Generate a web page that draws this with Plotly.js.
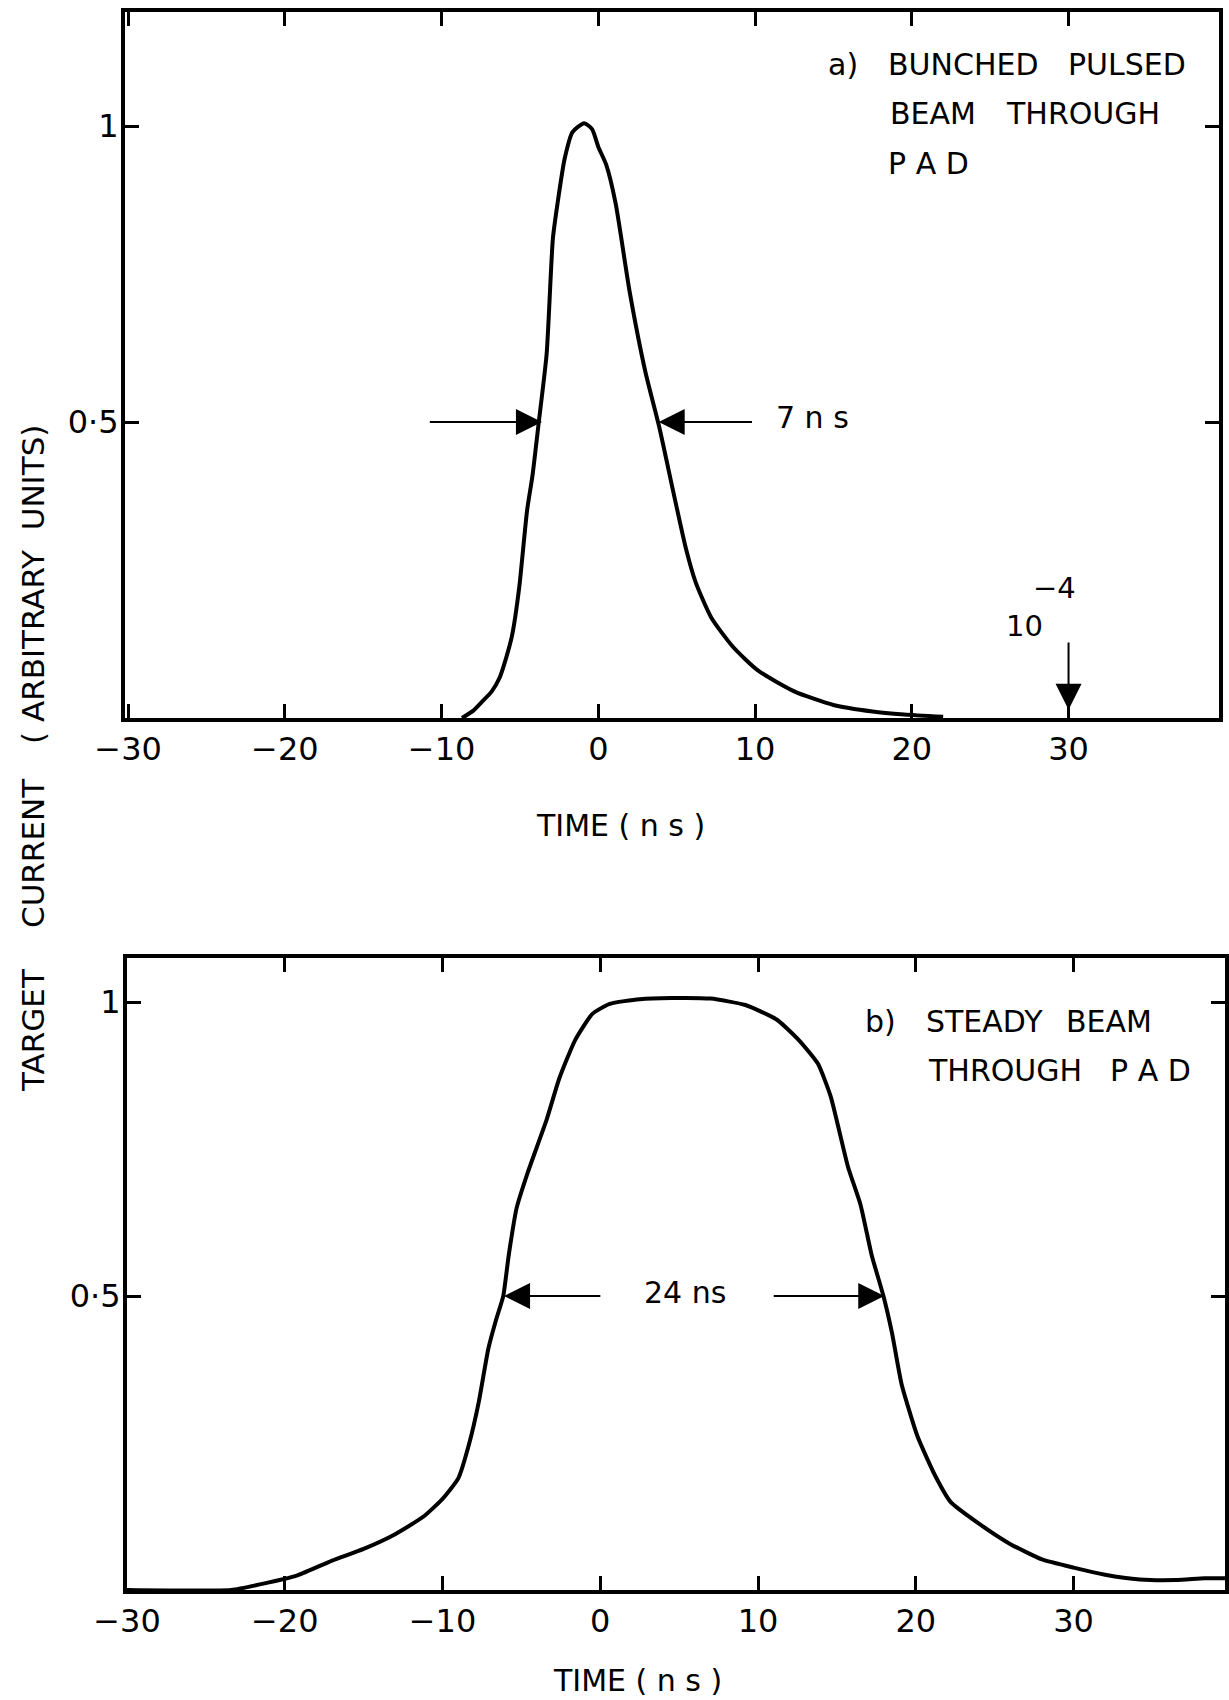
<!DOCTYPE html>
<html><head><meta charset="utf-8">
<script src="https://cdn.plot.ly/plotly-3.0.1.min.js"></script>
<style>html,body{margin:0;padding:0;background:#fff}</style>
</head><body><div id="chart" style="width:1229px;height:1700px"></div>
<script>
// ---- data: (a) bunched pulsed beam ----
const timeA = [-8.7, -8.0, -7.4, -6.8, -6.3, -5.9, -5.5, -5.05, -4.55, -4.2, -3.8, -3.3, -2.9, -2.6, -2.15, -1.65, -0.9, -0.4, 0.0, 0.5, 1.1, 2.0, 3.0, 3.9, 4.8, 5.6, 6.2, 7.2, 8.6, 10.2, 12.5, 15.0, 17.5, 19.5, 22.0];
const currentA = [0.0, 0.012, 0.028, 0.045, 0.068, 0.1, 0.14, 0.22, 0.35, 0.41, 0.5, 0.615, 0.81, 0.87, 0.945, 0.99, 1.005, 0.995, 0.965, 0.935, 0.87, 0.72, 0.585, 0.49, 0.38, 0.285, 0.23, 0.17, 0.12, 0.08, 0.045, 0.022, 0.011, 0.006, 0.002];
// ---- data: (b) steady beam ----
const timeB = [-30, -23.4, -21.5, -19.2, -17.0, -15.0, -13.0, -11.2, -10.0, -9.0, -8.3, -7.7, -7.1, -6.6, -6.15, -5.8, -5.3, -4.6, -3.4, -2.6, -1.6, -0.5, 0.6, 2.5, 4.5, 7.0, 9.2, 11.2, 12.6, 13.8, 14.6, 15.7, 16.5, 17.2, 17.95, 18.5, 19.1, 20.1, 21.2, 22.2, 24.0, 26.0, 28.0, 30.0, 32.0, 34.2, 36.5, 38.3, 39.6];
const currentB = [0, 0, 0.01, 0.025, 0.05, 0.07, 0.095, 0.125, 0.155, 0.19, 0.25, 0.32, 0.41, 0.46, 0.5, 0.57, 0.65, 0.71, 0.8, 0.87, 0.935, 0.98, 0.997, 1.005, 1.007, 1.006, 0.995, 0.97, 0.935, 0.895, 0.84, 0.72, 0.655, 0.57, 0.5, 0.436, 0.35, 0.262, 0.196, 0.15, 0.113, 0.078, 0.052, 0.038, 0.026, 0.018, 0.017, 0.02, 0.02];
// ---- ticks ----
const xTickVals = [-30, -20, -10, 0, 10, 20, 30];
const xTickText = ['\u221230', '\u221220', '\u221210', '0', '10', '20', '30'];
const yTickVals = [0.5, 1];
const yTickText = ['0\u00b75', '1'];
// ---- FWHM markers ----
const halfLevel = 0.5;
const fwhmA = [-3.6, 3.85];
const fwhmB = [-6.1, 18.0];
const fwhmLabelA = '7 n s';
const fwhmLabelB = '24 ns';
const markerTimeA = 30;
const markerLabelA = ['10', '\u22124'];

const W = 1229, H = 1700;
const FONT = 'DejaVu Sans';
const px = v => v / W;
const py = v => 1 - v / H;

const traces = [
  {x: timeA, y: currentA, xaxis: 'x', yaxis: 'y', mode: 'lines',
   line: {color: '#000', width: 4, shape: 'spline', smoothing: 0.6}, hoverinfo: 'skip'},
  {x: timeB, y: currentB, xaxis: 'x2', yaxis: 'y2', mode: 'lines',
   line: {color: '#000', width: 4, shape: 'spline', smoothing: 0.5}, hoverinfo: 'skip'}
];

function axisStyle(extra) {
  return Object.assign({
    showline: true, linewidth: 4, linecolor: '#000', mirror: 'allticks',
    ticks: 'inside', ticklen: 14, tickwidth: 3, tickcolor: '#000',
    showgrid: false, zeroline: false, fixedrange: true,
    tickfont: {family: FONT, size: 32, color: '#000'}
  }, extra);
}

function txt(text, x, y, xanchor, size, extra) {
  return Object.assign({text: text, xref: 'paper', yref: 'paper', x: px(x), y: py(y),
    xanchor: xanchor || 'left', yanchor: 'middle', showarrow: false,
    font: {family: FONT, size: size || 30, color: '#000'}}, extra || {});
}
function arrow(xr, yr, tipX, tipY, tailX, tailY) {
  return {text: '', xref: xr, yref: yr, axref: xr, ayref: yr, x: tipX, y: tipY, ax: tailX, ay: tailY,
    showarrow: true, arrowhead: 2, arrowsize: 2.6, arrowwidth: 2, arrowcolor: '#000', standoff: 0};
}

const annotations = [
  // panel a text
  txt('a)', 826, 65), txt('BUNCHED', 886, 65), txt('PULSED', 1066, 65),
  txt('BEAM', 888, 114), txt('THROUGH', 1004, 114), txt('P A D', 886, 163),
  txt(fwhmLabelA, 812, 418, 'center'),
  txt(markerLabelA[0], 1024, 626, 'center', 29),
  txt(markerLabelA[1], 1031, 588, 'left', 29),
  txt('TIME ( n s )', 620, 826, 'center'),
  // panel b text
  txt('b)', 863, 1021), txt('STEADY', 924, 1021), txt('BEAM', 1064, 1021),
  txt('THROUGH', 926, 1070), txt('P A D', 1108, 1070),
  txt(fwhmLabelB, 685, 1292, 'center'),
  txt('TIME ( n s )', 637, 1680, 'center'),
  // y title pieces
  txt('TARGET', 33, 1030, 'center', 31, {textangle: -90}),
  txt('CURRENT', 33, 853, 'center', 31, {textangle: -90}),
  txt('( ARBITRARY  UNITS)', 33, 585, 'center', 31, {textangle: -90}),
  // arrows
  arrow('x', 'y', fwhmA[0], halfLevel, -10.85, halfLevel),
  arrow('x', 'y', fwhmA[1], halfLevel, 9.9, halfLevel),
  arrow('x', 'y', markerTimeA, 0.014, markerTimeA, 0.13),
  arrow('x2', 'y2', fwhmB[0], halfLevel, 0.1, halfLevel),
  arrow('x2', 'y2', fwhmB[1], halfLevel, 10.9, halfLevel)
];

const layout = {
  width: W, height: H, margin: {l: 0, r: 0, t: 0, b: 0},
  paper_bgcolor: '#fff', plot_bgcolor: '#fff', showlegend: false,
  font: {family: FONT, color: '#000'},
  xaxis: axisStyle({domain: [px(125), px(1219)], range: [-30.2, 39.6], anchor: 'y',
    tickvals: xTickVals, ticktext: xTickText}),
  yaxis: axisStyle({domain: [py(718), py(12)], range: [0, 1.193], anchor: 'x',
    tickvals: yTickVals, ticktext: yTickText, ticklabelstandoff: -4}),
  xaxis2: axisStyle({domain: [px(127), px(1225)], range: [-30, 39.6], anchor: 'y2',
    tickvals: xTickVals, ticktext: xTickText}),
  yaxis2: axisStyle({domain: [py(1590), py(958)], range: [0, 1.075], anchor: 'x2',
    tickvals: yTickVals, ticktext: yTickText, ticklabelstandoff: -4}),
  annotations: annotations
};

Plotly.newPlot('chart', traces, layout, {staticPlot: true, displayModeBar: false});
</script></body></html>
